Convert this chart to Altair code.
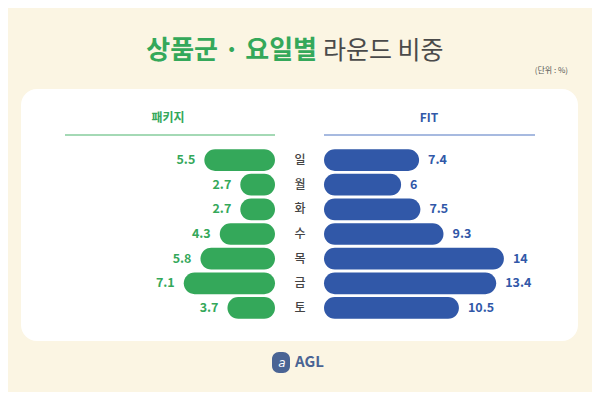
import altair as alt
import pandas as pd

days = ["일", "월", "화", "수", "목", "금", "토"]
package_vals = [5.5, 2.7, 2.7, 4.3, 5.8, 7.1, 3.7]
fit_vals = [7.4, 6, 7.5, 9.3, 14, 13.4, 10.5]

title_green = "상품군 · 요일별"
title_gray = "라운드 비중"
unit_note = "(단위 : %)"
left_header = "패키지"
right_header = "FIT"
logo_text = "AGL"

GREEN = "#34A85A"
BLUE = "#3158A8"
BG = "#FBF5E3"
FONT = "Noto Sans CJK KR"

df = pd.DataFrame({"day": days, "pkg": package_vals, "fit": fit_vals})

yenc = alt.Y("day:N", sort=days, axis=None,
             scale=alt.Scale(range=[139.7, 312.3], paddingInner=0.12, paddingOuter=0.06))
left_scale = alt.Scale(domain=[0, 20], range=[267, 10])
right_scale = alt.Scale(domain=[0, 20], range=[316, 573])

def one(text):
    return pd.DataFrame({"t": [text]})

panel = alt.Chart(one("p")).mark_rect(fill="white", cornerRadius=16).encode(
    x=alt.value(13), x2=alt.value(570), y=alt.value(81), y2=alt.value(333))

t1 = alt.Chart(one(title_green)).mark_text(
    font=FONT, fontSize=26, fontWeight=700, color=GREEN, align="right", baseline="middle"
).encode(text="t:N", x=alt.value(309), y=alt.value(43))
t2 = alt.Chart(one(title_gray)).mark_text(
    font=FONT, fontSize=25, fontWeight=400, color="#4a4a4a", align="left", baseline="middle"
).encode(text="t:N", x=alt.value(315), y=alt.value(43))
unit = alt.Chart(one(unit_note)).mark_text(
    font=FONT, fontSize=8, color="#555555", align="right", baseline="middle"
).encode(text="t:N", x=alt.value(560), y=alt.value(63))

h1 = alt.Chart(one(left_header)).mark_text(
    font=FONT, fontSize=12, fontWeight=700, color=GREEN, align="center", baseline="middle"
).encode(text="t:N", x=alt.value(160), y=alt.value(110))
h2 = alt.Chart(one(right_header)).mark_text(
    font=FONT, fontSize=12, fontWeight=700, color=BLUE, align="center", baseline="middle"
).encode(text="t:N", x=alt.value(421), y=alt.value(110))
l1 = alt.Chart(one("l")).mark_rule(color="#86CD9C", strokeWidth=1.5).encode(
    x=alt.value(57), x2=alt.value(267), y=alt.value(127))
l2 = alt.Chart(one("l")).mark_rule(color="#8AA3D6", strokeWidth=1.5).encode(
    x=alt.value(316), x2=alt.value(527), y=alt.value(127))

base = alt.Chart(df)
bar_l = base.mark_bar(color=GREEN, cornerRadius=10.8).encode(
    x=alt.X("pkg:Q", scale=left_scale, axis=None), x2=alt.datum(0), y=yenc)
txt_l = base.mark_text(font=FONT, fontSize=12.5, fontWeight=700, color=GREEN,
                       align="right", baseline="middle", dx=-9).encode(
    x=alt.X("pkg:Q", scale=left_scale, axis=None), y=yenc, text="pkg:Q")
bar_r = base.mark_bar(color=BLUE, cornerRadius=10.8).encode(
    x=alt.X("fit:Q", scale=right_scale, axis=None), x2=alt.datum(0), y=yenc)
txt_r = base.mark_text(font=FONT, fontSize=12.5, fontWeight=700, color=BLUE,
                       align="left", baseline="middle", dx=9).encode(
    x=alt.X("fit:Q", scale=right_scale, axis=None), y=yenc, text="fit:Q")
day_t = base.mark_text(font=FONT, fontSize=12, fontWeight=500, color="#444444",
                       align="center", baseline="middle").encode(
    x=alt.value(292), y=yenc, text="day:N")

logo_icon = alt.Chart(one("i")).mark_rect(fill="#4A6494", cornerRadius=7).encode(
    x=alt.value(264), x2=alt.value(282), y=alt.value(344), y2=alt.value(365))
logo_a = alt.Chart(one("a")).mark_text(
    font="DejaVu Sans", fontSize=12, fontStyle="italic", color="white", align="center", baseline="middle"
).encode(text="t:N", x=alt.value(274), y=alt.value(355))
logo_t = alt.Chart(one(logo_text)).mark_text(
    font=FONT, fontSize=15, fontWeight=700, color="#4A6494", align="left", baseline="middle"
).encode(text="t:N", x=alt.value(287), y=alt.value(354))

chart = alt.layer(
    panel, t1, t2, unit, h1, h2, l1, l2,
    bar_l, txt_l, bar_r, txt_r, day_t,
    logo_icon, logo_a, logo_t
).resolve_scale(x="independent").properties(
    width=584, height=384, padding=0,
    autosize=alt.AutoSizeParams(type="none"),
    background=BG
).configure_view(stroke=None)

chart.save("out.html", embed_options={"renderer": "svg", "actions": False})
